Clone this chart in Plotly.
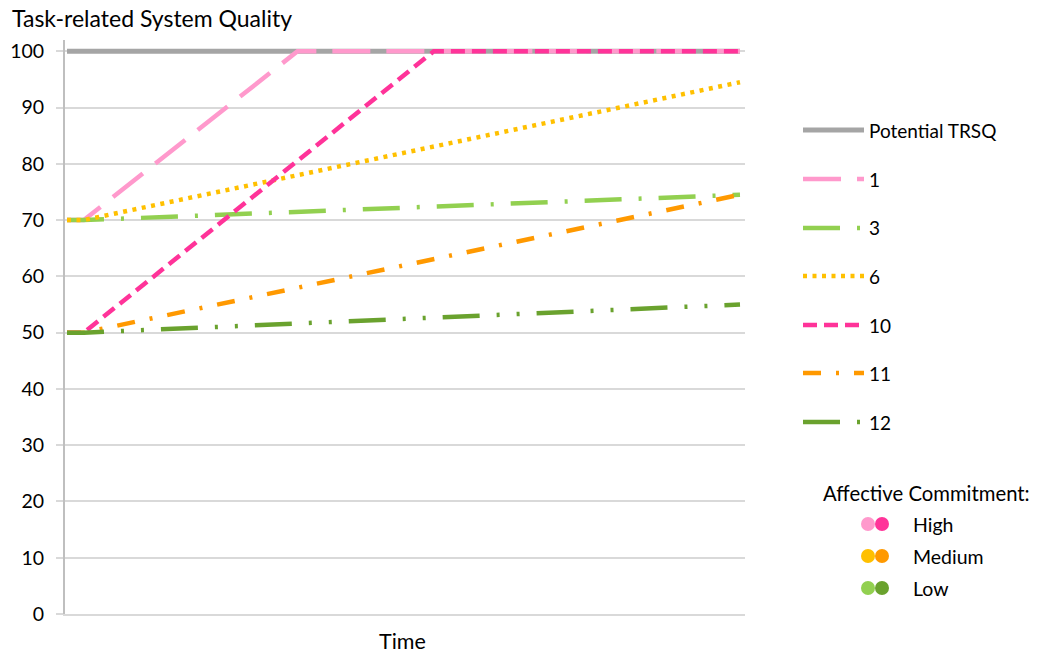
import plotly.graph_objects as go

# Time steps (arbitrary units) and Task-related System Quality per scenario
t_potential = [0, 40]
q_potential = [100, 100]

t_1 = [0, 1, 13.7, 40]
q_1 = [70, 70, 100, 100]

t_3 = [0, 1, 40]
q_3 = [70, 70, 74.5]

t_6 = [0, 1, 40]
q_6 = [70, 70, 94.5]

t_10 = [0, 1, 21.8, 40]
q_10 = [50, 50, 100, 100]

t_11 = [0, 1, 40]
q_11 = [50, 50, 74.5]

t_12 = [0, 1, 40]
q_12 = [50, 50, 55]

series_names = ["Potential TRSQ", "1", "3", "6", "10", "11", "12"]
commitment_levels = ["High", "Medium", "Low"]

GRAY = "#A5A5A5"
PINK_L = "#FF99CC"
PINK_D = "#FF3399"
YELLOW = "#FFC000"
ORANGE = "#FF9900"
GREEN_L = "#92D050"
GREEN_D = "#6AA22E"

styles = [
    (GRAY, "solid", 5),
    (PINK_L, "38px,16px", 4.5),
    (GREEN_L, "37px,17px,3px,17px", 4.5),
    (YELLOW, "4px,5.5px", 4.5),
    (PINK_D, "14px,7px", 4.5),
    (ORANGE, "18px,15px,3px,15px", 4.5),
    (GREEN_D, "37px,17px,3px,17px,3px,17px", 4.5),
]
data = [
    (t_potential, q_potential),
    (t_1, q_1),
    (t_3, q_3),
    (t_6, q_6),
    (t_10, q_10),
    (t_11, q_11),
    (t_12, q_12),
]

FONT = "Lato"
W, H = 1041, 655
L, R, T, B = 65, 296, 40, 41
PW, PH = W - L - R, H - T - B


def px_x(px):
    return (px - L) / PW


def px_y(py):
    return (H - B - py) / PH


fig = go.Figure()
for name, (xs, ys), (color, dash, width) in zip(series_names, data, styles):
    fig.add_trace(go.Scatter(
        x=xs, y=ys, mode="lines", name=name, showlegend=False,
        line=dict(color=color, dash=dash, width=width),
        hoverinfo="skip",
    ))

shapes = []
annotations = []

# Line legend
legend_rows = [130, 179, 228, 276, 325, 373, 422]
for name, (color, dash, width), ry in zip(series_names, styles, legend_rows):
    shapes.append(dict(
        type="line", xref="paper", yref="paper",
        x0=px_x(803), x1=px_x(864), y0=px_y(ry), y1=px_y(ry),
        line=dict(color=color, dash=dash, width=width),
    ))
    annotations.append(dict(
        xref="paper", yref="paper", x=px_x(867), y=px_y(ry),
        xanchor="left", yanchor="middle", text=name, showarrow=False,
        font=dict(family=FONT, size=19, color="#000000"),
    ))

# Colour key for affective commitment
annotations.append(dict(
    xref="paper", yref="paper", x=px_x(821), y=px_y(493),
    xanchor="left", yanchor="middle", text="Affective Commitment:",
    showarrow=False, font=dict(family=FONT, size=20.3, color="#000000"),
))
key_colors = [(PINK_L, PINK_D), (YELLOW, ORANGE), (GREEN_L, GREEN_D)]
key_rows = [524, 556, 588]
for level, (c1, c2), ry in zip(commitment_levels, key_colors, key_rows):
    for cx, c in ((868, c1), (882, c2)):
        shapes.append(dict(
            type="circle", xref="paper", yref="paper",
            x0=px_x(cx - 7), x1=px_x(cx + 7),
            y0=px_y(ry + 7), y1=px_y(ry - 7),
            fillcolor=c, line=dict(width=0),
        ))
    annotations.append(dict(
        xref="paper", yref="paper", x=px_x(911), y=px_y(ry),
        xanchor="left", yanchor="middle", text=level, showarrow=False,
        font=dict(family=FONT, size=19.5, color="#000000"),
    ))

# Axis titles
annotations.append(dict(
    xref="paper", yref="paper", x=px_x(10), y=px_y(18),
    xanchor="left", yanchor="middle", text="Task-related System Quality",
    showarrow=False, font=dict(family=FONT, size=23, color="#000000"),
))
annotations.append(dict(
    xref="paper", yref="paper", x=px_x(402), y=px_y(641),
    xanchor="center", yanchor="middle", text="Time",
    showarrow=False, font=dict(family=FONT, size=21.5, color="#000000"),
))

step = (740 - 67) / 40
fig.update_layout(
    width=W, height=H,
    margin=dict(l=L, r=R, t=T, b=B, autoexpand=False),
    paper_bgcolor="white", plot_bgcolor="white",
    shapes=shapes, annotations=annotations,
    xaxis=dict(
        range=[-(67 - L) / step, 40 + (L + PW - 740) / step],
        showgrid=False, zeroline=False, showticklabels=False, ticks="",
        showline=True, linecolor="#D9D9D9", linewidth=1.5,
    ),
    yaxis=dict(
        range=[0, 102], tickmode="array", tickvals=list(range(0, 101, 10)),
        showgrid=True, gridcolor="#D9D9D9", gridwidth=1.5,
        zeroline=False, showline=True, linecolor="#BFBFBF", linewidth=2,
        ticks="outside", ticklen=7, tickcolor="#D9D9D9", tickwidth=1.5,
        ticklabelstandoff=8,
        tickfont=dict(family=FONT, size=19.5, color="#000000"),
    ),
)

fig.write_html("out.html")
